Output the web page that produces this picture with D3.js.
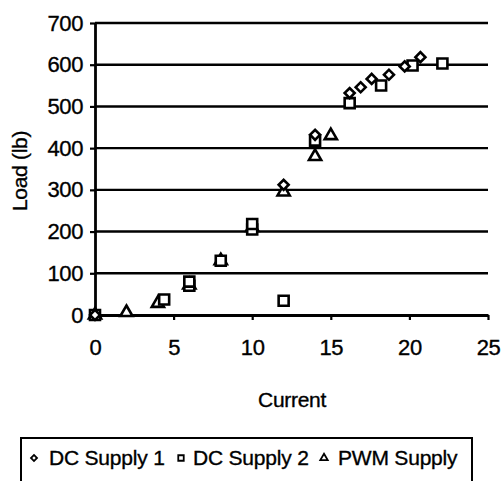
<!DOCTYPE html>
<html>
<head>
<meta charset="utf-8">
<script src="https://cdn.jsdelivr.net/npm/d3@7"></script>
<style>
  body { margin: 0; background: #fff; }
  text { font-family: "Liberation Sans", Arial, sans-serif; fill: #000; stroke: #000; stroke-width: 0.35px; }
</style>
</head>
<body>
<svg id="chart" width="501" height="481"></svg>
<script>
// values
var dc1X = [0, 12, 14, 16.2, 16.9, 17.6, 18.7, 19.7, 20.7]
var dc1Y = [0, 312, 432, 532, 546, 566, 576, 596, 618]

var dc2X = [0, 4.4, 6, 6, 8, 10, 10, 12, 14, 16.2, 18.2, 20.2, 22.1]
var dc2Y = [0, 37, 70, 80, 130, 205, 218, 34, 418, 508, 550, 598, 603]

var pwmX = [0, 2, 4, 6, 8, 10, 12, 14, 15]
var pwmY = [0, 6, 28, 72, 130, 210, 295, 380, 430]

var xTicks = [0, 5, 10, 15, 20, 25]
var yTicks = [0, 100, 200, 300, 400, 500, 600, 700]
var seriesNames = ['DC Supply 1', 'DC Supply 2', 'PWM Supply']

var svg = d3.select('#chart')
var x = d3.scaleLinear().domain([0, 25]).range([95, 488])
var y = d3.scaleLinear().domain([0, 700]).range([315, 23])

// horizontal gridlines
svg.append('g').selectAll('line')
  .data(yTicks.filter(d => d > 0))
  .enter()
  .append('line')
  .attr('x1', x(0)).attr('x2', x(25))
  .attr('y1', d => y(d)).attr('y2', d => y(d))
  .attr('stroke', '#000').attr('stroke-width', 2.4)

// axes
var yAxis = svg.append('g')
  .attr('transform', 'translate(' + x(0) + ',0)')
  .call(d3.axisLeft(y).tickValues(yTicks).tickSize(5).tickSizeOuter(0).tickPadding(7))
var xAxis = svg.append('g')
  .attr('transform', 'translate(0,' + y(0) + ')')
  .call(d3.axisBottom(x).tickValues(xTicks).tickSize(5).tickSizeOuter(0).tickPadding(19))

;[yAxis, xAxis].forEach(function (a) {
  a.select('.domain').attr('stroke', '#000').attr('stroke-width', 2.8)
  a.selectAll('.tick line').attr('stroke', '#000').attr('stroke-width', 2.2)
  a.selectAll('.tick text')
    .style('font-family', '"Liberation Sans", Arial, sans-serif')
    .style('font-size', '22px')
    .style('letter-spacing', '-0.4px')
    .attr('fill', '#000')
})

// axis titles
svg.append('text')
  .attr('transform', 'translate(27,171) rotate(-90)')
  .attr('text-anchor', 'middle')
  .style('font-size', '21px')
  .style('letter-spacing', '-0.3px')
  .text('Load (lb)')

svg.append('text')
  .attr('x', 292).attr('y', 407)
  .attr('text-anchor', 'middle')
  .style('font-size', '21px')
  .style('letter-spacing', '-0.3px')
  .text('Current')

// markers
var diamond = d3.symbol().type(d3.symbolSquare).size(50)
var square = d3.symbol().type(d3.symbolSquare).size(100)
var triangle = d3.symbol().type(d3.symbolTriangle).size(64)

function drawSeries (xs, ys, shape, rot) {
  svg.append('g').selectAll('path')
    .data(xs.map((v, i) => ({ x: v, y: ys[i] })))
    .enter()
    .append('path')
    .attr('d', shape)
    .attr('transform', d => 'translate(' + x(d.x) + ',' + y(d.y) + ') rotate(' + rot + ')')
    .attr('fill', '#fff')
    .attr('stroke', '#000')
    .attr('stroke-width', 2.6)
}

drawSeries(pwmX, pwmY, triangle, 0)
drawSeries(dc2X, dc2Y, square, 0)
drawSeries(dc1X, dc1Y, diamond, 45)

// legend
var legend = svg.append('g')
legend.append('rect')
  .attr('x', 21).attr('y', 438).attr('width', 451).attr('height', 60)
  .attr('fill', 'none').attr('stroke', '#000').attr('stroke-width', 2)

var legendItems = [
  { name: seriesNames[0], shape: d3.symbol().type(d3.symbolSquare).size(18), rot: 45, mx: 34, tx: 49 },
  { name: seriesNames[1], shape: d3.symbol().type(d3.symbolSquare).size(30), rot: 0, mx: 181, tx: 193 },
  { name: seriesNames[2], shape: d3.symbol().type(d3.symbolTriangle).size(24), rot: 0, mx: 324, tx: 338 }
]

legendItems.forEach(function (d) {
  legend.append('path')
    .attr('d', d.shape)
    .attr('transform', 'translate(' + d.mx + ',458) rotate(' + d.rot + ')')
    .attr('fill', '#fff').attr('stroke', '#000').attr('stroke-width', 1.8)
  legend.append('text')
    .attr('x', d.tx).attr('y', 465)
    .style('font-size', '21px')
    .style('letter-spacing', '-0.2px')
    .text(d.name)
})
</script>
</body>
</html>
